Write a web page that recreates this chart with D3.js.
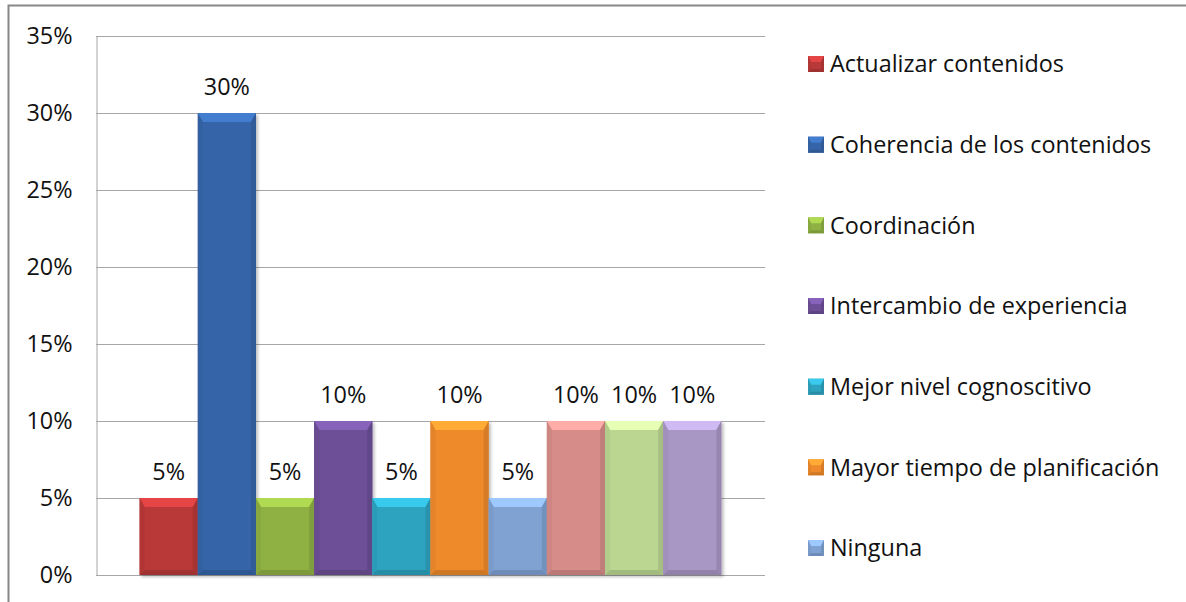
<!DOCTYPE html>
<html>
<head>
<meta charset="utf-8">
<script src="https://cdn.jsdelivr.net/npm/d3@7"></script>
<style>
  body { margin: 0; background: #fff; }
  svg { display: block; font-family: "Open Sans", Lato, sans-serif; }
</style>
</head>
<body>
<svg class="chart" width="1186" height="602"></svg>
<script>
// values of the 10 bars (share of answers)
var values = [0.05, 0.30, 0.05, 0.10, 0.05, 0.10, 0.05, 0.10, 0.10, 0.10];

// bar colours, in series order
var colors = ["#b93838", "#3565a8", "#8fb043", "#6c4f96", "#2ea3bf",
              "#ee8a2c", "#7fa2d3", "#d68c88", "#bad691", "#a896c4"];

// legend entries that fit in the picture (the last three are cut off)
var legendNames = [
  "Actualizar contenidos",
  "Coherencia de los contenidos",
  "Coordinación",
  "Intercambio de experiencia",
  "Mejor nivel cognoscitivo",
  "Mayor tiempo de planificación",
  "Ninguna"
];

var yTicks = [0, 0.05, 0.10, 0.15, 0.20, 0.25, 0.30, 0.35];

var svg = d3.select("svg.chart"),
    plot = {left: 96, top: 36, right: 765, bottom: 575},
    fontSize = "23.4px";

var fmt = d3.format(".0%");

var x = d3.scaleBand()
    .domain(d3.range(values.length))
    .range([plot.left, plot.right])
    .paddingInner(0)
    .paddingOuter(0.75);

var y = d3.scaleLinear()
    .domain([0, 0.35])
    .range([plot.bottom, plot.top]);

// outer chart border (only top and left show in the picture)
svg.append("rect")
    .attr("x", 8.5)
    .attr("y", 5.5)
    .attr("width", 1200)
    .attr("height", 620)
    .attr("fill", "none")
    .attr("stroke", "#878787")
    .attr("stroke-width", 2);

// gridlines
svg.append("g")
    .attr("class", "grid")
  .selectAll("line")
  .data(yTicks)
  .enter().append("line")
    .attr("x1", plot.left)
    .attr("x2", plot.right)
    .attr("y1", function(d) { return Math.round(y(d)) + 0.5; })
    .attr("y2", function(d) { return Math.round(y(d)) + 0.5; })
    .attr("stroke", "#a6a6a6")
    .attr("stroke-width", 1);

// y axis
var yAxis = svg.append("g")
    .attr("class", "axis axis--y")
    .attr("transform", "translate(" + (plot.left + 0.5) + ",0)")
    .call(d3.axisLeft(y).tickValues(yTicks).tickFormat(fmt).tickSize(0).tickPadding(24));

yAxis.select(".domain").attr("stroke", "#a6a6a6");
yAxis.selectAll("text")
    .attr("fill", "#111")
    .style("font-size", fontSize)
    .style("font-family", "'Open Sans', Lato, sans-serif");

// drop shadow for the bars
var defs = svg.append("defs");
defs.append("filter")
    .attr("id", "shadow")
    .attr("x", "-10%").attr("y", "-10%")
    .attr("width", "130%").attr("height", "130%")
  .append("feDropShadow")
    .attr("dx", 2).attr("dy", 2)
    .attr("stdDeviation", 1.5)
    .attr("flood-color", "#000")
    .attr("flood-opacity", 0.25);

// bevelled bar, drawn as body + four edge facets
function bevel(sel, x0, y0, w, h, c, b, s) {
  var col = d3.color(c);
  sel.append("rect")
      .attr("x", x0).attr("y", y0)
      .attr("width", w).attr("height", h)
      .attr("fill", col);
  var pts = {
    top: [[x0, y0], [x0 + w, y0], [x0 + w - s, y0 + b], [x0 + s, y0 + b]],
    left: [[x0, y0], [x0 + s, y0 + b], [x0 + s, y0 + h - s], [x0, y0 + h]],
    right: [[x0 + w, y0], [x0 + w, y0 + h], [x0 + w - s, y0 + h - s], [x0 + w - s, y0 + b]],
    bottom: [[x0, y0 + h], [x0 + s, y0 + h - s], [x0 + w - s, y0 + h - s], [x0 + w, y0 + h]]
  };
  var shade = {
    top: col.brighter(0.6),
    left: col.darker(0.12),
    right: col.darker(0.3),
    bottom: col.darker(0.4)
  };
  Object.keys(pts).forEach(function(k) {
    sel.append("path")
        .attr("d", "M" + pts[k].join("L") + "Z")
        .attr("fill", shade[k]);
  });
}

var bars = svg.append("g").attr("class", "bars");

values.forEach(function(v, i) {
  var g = bars.append("g").attr("filter", "url(#shadow)");
  bevel(g, x(i), y(v), x.bandwidth(), y(0) - y(v), colors[i], 9, 5);
});

// data labels
svg.append("g")
    .attr("class", "labels")
  .selectAll("text")
  .data(values)
  .enter().append("text")
    .attr("x", function(d, i) { return x(i) + x.bandwidth() / 2; })
    .attr("y", function(d) { return y(d) - 18; })
    .attr("text-anchor", "middle")
    .attr("fill", "#111")
    .style("font-size", fontSize)
    .text(fmt);

// legend
var ly = d3.scalePoint()
    .domain(legendNames)
    .range([64, 548]);

var legend = svg.selectAll(".legend")
  .data(legendNames)
  .enter().append("g")
    .attr("class", "legend")
    .attr("transform", function(d) { return "translate(808," + ly(d) + ")"; });

legend.each(function(d, i) {
  bevel(d3.select(this), 0, -8, 16, 16, colors[i], 6, 3);
});

legend.append("text")
    .attr("x", 22)
    .attr("dy", "0.35em")
    .attr("fill", "#111")
    .style("font-size", fontSize)
    .text(function(d) { return d; });
</script>
</body>
</html>
